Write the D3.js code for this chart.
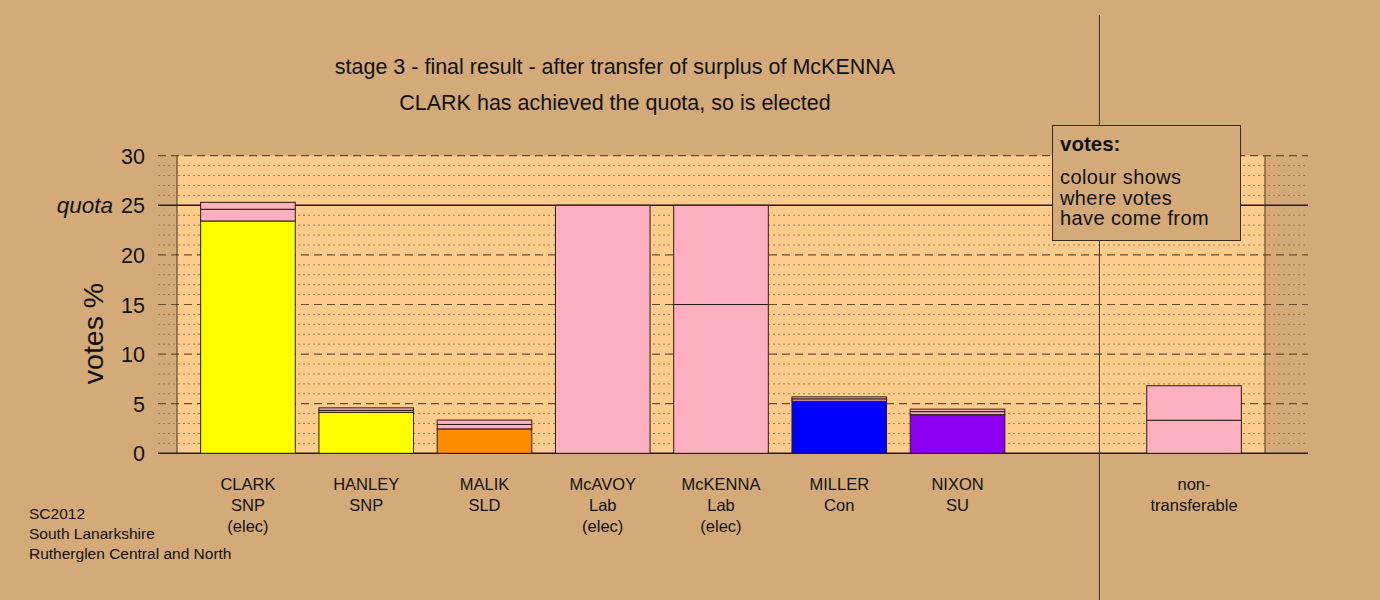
<!DOCTYPE html>
<html>
<head>
<meta charset="utf-8">
<script src="https://cdn.jsdelivr.net/npm/d3@7"></script>
<style>
  html, body { margin: 0; padding: 0; background: #D4AA78; }
  svg { display: block; font-family: "Liberation Sans", Arial, sans-serif; }
</style>
</head>
<body>
<svg id="chart" width="1380" height="600"></svg>
<script>
// ---- data ----
const categories = ["CLARK", "HANLEY", "MALIK", "McAVOY", "McKENNA", "MILLER", "NIXON", "", "non-transferable"];
const labelLines = [
  ["CLARK", "SNP", "(elec)"],
  ["HANLEY", "SNP"],
  ["MALIK", "SLD"],
  ["McAVOY", "Lab", "(elec)"],
  ["McKENNA", "Lab", "(elec)"],
  ["MILLER", "Con"],
  ["NIXON", "SU"],
  [],
  ["non-", "transferable"]
];
const segmentValues = [
  [23.42, 1.18, 0.70],
  [4.13, 0.20, 0.25],
  [2.46, 0.45, 0.44],
  [25.0],
  [15.0, 10.0],
  [5.25, 0.24, 0.20],
  [3.90, 0.30, 0.25],
  [],
  [3.33, 3.48]
];
const segmentParties = [
  ["SNP", "Lab", "Lab"],
  ["SNP", "Lab", "Lab"],
  ["SLD", "Lab", "Lab"],
  ["Lab"],
  ["Lab", "Lab"],
  ["Con", "Lab", "Lab"],
  ["SU", "Lab", "Lab"],
  [],
  ["Lab", "Lab"]
];
const partyColours = { SNP: "#FFFF00", SLD: "#FF8C00", Lab: "#FFB0C0", Con: "#0000FF", SU: "#8B00F0" };
const yTicks = [0, 5, 10, 15, 20, 25, 30];
const quota = 25;
const titleLines = ["stage 3 - final result - after transfer of surplus of McKENNA",
                    "CLARK has achieved the quota, so is elected"];
const legendLines = ["colour shows", "where votes", "have come from"];
const footLines = ["SC2012", "South Lanarkshire", "Rutherglen Central and North"];

// ---- layout ----
const svg = d3.select("#chart");
const W = 1380, H = 600;
const panel = { left: 177, right: 1265, top: 155.7, bottom: 453.3 };
const gridLeft = 158, gridRight = 1308;

svg.append("rect").attr("width", W).attr("height", H).attr("fill", "#D4AA78");

const x = d3.scaleBand().domain(categories).range([panel.left, panel.right])
  .paddingInner(0.2).paddingOuter(0.2);
const y = d3.scaleLinear().domain([0, 30]).range([panel.bottom, panel.top]);

// panel
svg.append("rect")
  .attr("x", panel.left).attr("y", y(30))
  .attr("width", panel.right - panel.left).attr("height", y(0) - y(30))
  .attr("fill", "#FFCC8C");

// minor dotted gridlines
const minor = d3.range(1, 30).filter(v => v % 5 !== 0);
svg.append("g").selectAll("line").data(minor).join("line")
  .attr("x1", gridLeft).attr("x2", gridRight)
  .attr("y1", d => y(d)).attr("y2", d => y(d))
  .attr("stroke", "#8a6a48").attr("stroke-width", 1)
  .attr("stroke-dasharray", "2,3").attr("opacity", 0.8);

// major dashed gridlines
const major = yTicks.filter(v => v !== 0 && v !== quota);
svg.append("g").selectAll("line").data(major).join("line")
  .attr("x1", gridLeft).attr("x2", gridRight)
  .attr("y1", d => y(d)).attr("y2", d => y(d))
  .attr("stroke", "#6a4c30").attr("stroke-width", 1.2)
  .attr("stroke-dasharray", "8,5");

// quota line and baseline
[quota, 0].forEach(v => {
  svg.append("line").attr("x1", gridLeft).attr("x2", gridRight)
    .attr("y1", y(v)).attr("y2", y(v))
    .attr("stroke", "#2a1a0a").attr("stroke-width", 1.5);
});

// panel side borders
[panel.left, panel.right].forEach(px => {
  svg.append("line").attr("x1", px).attr("x2", px)
    .attr("y1", y(30)).attr("y2", y(0))
    .attr("stroke", "#4a3420").attr("stroke-width", 1);
});

// separator line
const sepX = x("non-transferable") - x.step() * 0.4;
svg.append("line").attr("x1", sepX).attr("x2", sepX)
  .attr("y1", 15).attr("y2", H)
  .attr("stroke", "#4a3420").attr("stroke-width", 1);

// bars
categories.forEach((c, i) => {
  let cum = 0;
  const segs = segmentValues[i].map((v, j) => {
    const s = { y0: cum, y1: cum + v, party: segmentParties[i][j] };
    cum += v;
    return s;
  });
  svg.append("g").selectAll("rect").data(segs).join("rect")
    .attr("x", x(c)).attr("width", x.bandwidth())
    .attr("y", d => y(d.y1)).attr("height", d => y(d.y0) - y(d.y1))
    .attr("fill", d => partyColours[d.party])
    .attr("stroke", "#2a1a10").attr("stroke-width", 1);
});

// y axis labels
const yAxis = d3.axisLeft(y).tickValues(yTicks).tickSize(0).tickPadding(0);
const ga = svg.append("g").attr("transform", `translate(145,0)`).call(yAxis);
ga.select(".domain").remove();
ga.selectAll("text").attr("font-size", 21.5).attr("fill", "#111")
  .attr("font-family", "'Liberation Sans', Arial, sans-serif").attr("dy", "0.35em");

svg.append("text").attr("x", 113).attr("y", y(quota)).attr("dy", "0.35em")
  .attr("text-anchor", "end").attr("font-size", 22.5).attr("font-style", "italic")
  .attr("fill", "#111").text("quota");

svg.append("text")
  .attr("transform", `translate(103,${(y(0) + y(30)) / 2 + 29}) rotate(-90)`)
  .attr("text-anchor", "middle").attr("font-size", 28.5).attr("fill", "#111")
  .text("votes %");

// category labels
categories.forEach((c, i) => {
  const cx = x(c) + x.bandwidth() / 2;
  labelLines[i].forEach((t, k) => {
    svg.append("text").attr("x", cx).attr("y", 490 + k * 21)
      .attr("text-anchor", "middle").attr("font-size", 16.5).attr("fill", "#111").text(t);
  });
});

// title
titleLines.forEach((t, k) => {
  svg.append("text").attr("x", 615).attr("y", 74 + k * 36)
    .attr("text-anchor", "middle").attr("font-size", 21.5).attr("fill", "#111").text(t);
});

// legend
svg.append("rect").attr("x", 1052.5).attr("y", 125.5).attr("width", 188).attr("height", 115)
  .attr("fill", "#D4AA78").attr("stroke", "#3a2a1a").attr("stroke-width", 1);
svg.append("text").attr("x", 1060).attr("y", 151).attr("font-size", 20.5)
  .attr("font-weight", "bold").attr("fill", "#111").text("votes:");
legendLines.forEach((t, k) => {
  svg.append("text").attr("x", 1060).attr("y", 184 + k * 20.5)
    .attr("font-size", 20).attr("letter-spacing", 0.4).attr("fill", "#111").text(t);
});

// footnote
footLines.forEach((t, k) => {
  svg.append("text").attr("x", 29).attr("y", 519 + k * 20)
    .attr("font-size", 15.5).attr("fill", "#111").text(t);
});
</script>
</body>
</html>
